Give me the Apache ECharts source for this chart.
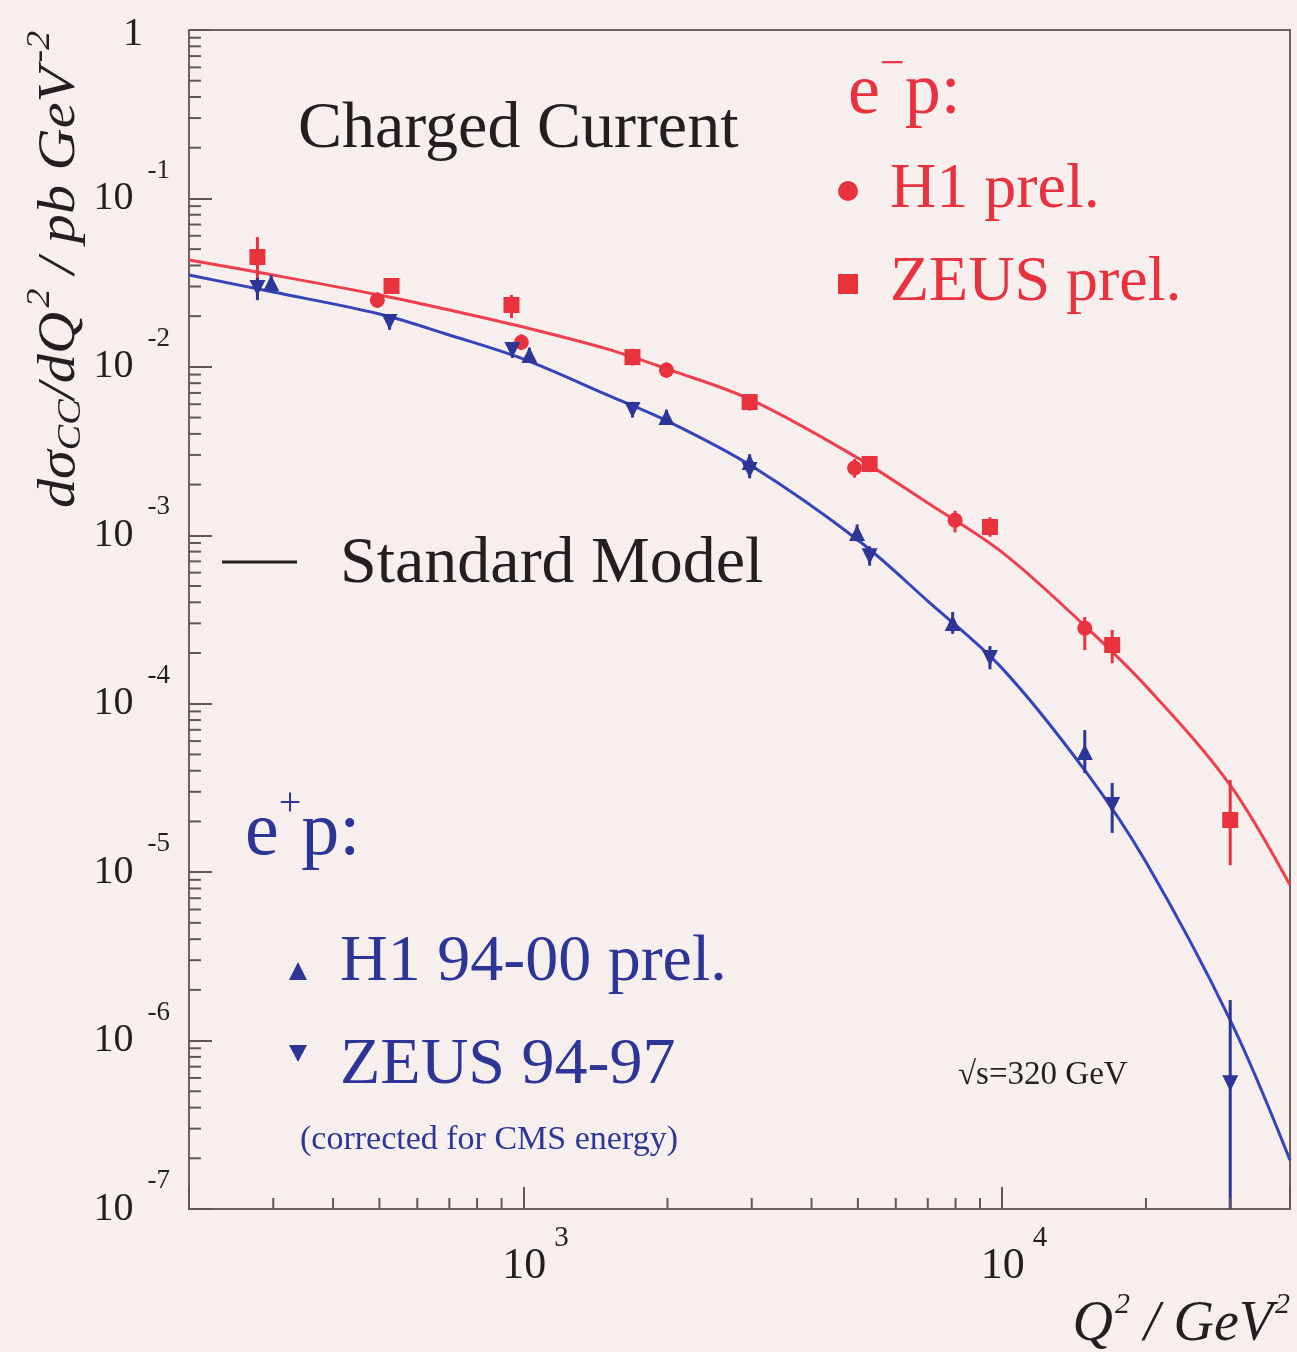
<!DOCTYPE html>
<html>
<head>
<meta charset="utf-8">
<script src="https://cdn.jsdelivr.net/npm/echarts@6/dist/echarts.min.js"></script>
<style>
  html, body { margin: 0; padding: 0; background: #f7efee; }
  #chart { width: 1297px; height: 1352px; }
</style>
</head>
<body>
<div id="chart"></div>
<script>
// ---- Standard Model predictions, dsigma_CC/dQ^2 in pb/GeV^2 ----
const smQ2 = [200, 300, 500, 700, 1000, 1500, 2000, 3000, 5000, 7000, 10000, 15000, 20000, 30000, 40000];
const smEminusP = [0.04307, 0.03509, 0.02669, 0.02175, 0.01723, 0.01275, 0.00970, 0.00635, 0.002873,
                   0.001553, 0.000795, 0.000285, 0.0001272, 0.00003285, 0.00000837];
const smEplusP = [0.03509, 0.02780, 0.02059, 0.01545, 0.01112, 0.00680, 0.004766, 0.002576, 0.000937,
                  0.0004068, 0.0001627, 0.00003925, 0.00001147, 0.000001321, 0.000000195];

// ---- e-p : H1 preliminary ----
const h1EmQ2 = [495, 990, 1990, 4920, 7980, 14900];
const h1EmXsec = [0.0249, 0.0140, 0.00957, 0.00251, 0.00123, 0.000281];
const h1EmLow = [0.0224, 0.0126, 0.0086, 0.00220, 0.00104, 0.000208];
const h1EmHigh = [0.0277, 0.0156, 0.0106, 0.00284, 0.00140, 0.000327];

// ---- e-p : ZEUS preliminary ----
const zeusEmQ2 = [278, 530, 944, 1690, 2970, 5290, 9440, 17000, 30000];
const zeusEmXsec = [0.0449, 0.0302, 0.0233, 0.01143, 0.00618, 0.00265, 0.00112, 0.000223, 0.0000204];
const zeusEmLow = [0.0306, 0.0272, 0.0195, 0.0102, 0.0055, 0.00237, 0.00098, 0.000174, 0.0000110];
const zeusEmHigh = [0.0590, 0.0335, 0.0267, 0.0128, 0.0069, 0.00296, 0.00128, 0.000274, 0.0000352];

// ---- e+p : H1 94-00 preliminary ----
const h1EpQ2 = [297, 1029, 1990, 2970, 4980, 7890, 14900];
const h1EpXsec = [0.0315, 0.01175, 0.00503, 0.00272, 0.00103, 0.000301, 0.0000516];
const h1EpLow = [0.0285, 0.0106, 0.00455, 0.00244, 0.00092, 0.000260, 0.0000387];
const h1EpHigh = [0.0350, 0.0130, 0.00556, 0.00303, 0.00116, 0.000350, 0.0000697];

// ---- e+p : ZEUS 94-97 (corrected for CMS energy) ----
const zeusEpQ2 = [278, 525, 948, 1690, 2970, 5290, 9440, 17000, 30000];
const zeusEpXsec = [0.0294, 0.01845, 0.01259, 0.00554, 0.00244, 0.000752, 0.000187, 0.0000250, 0.000000558];
const zeusEpLow = [0.0249, 0.0166, 0.0113, 0.0050, 0.00218, 0.00066, 0.000160, 0.0000171, 0.00000001];
const zeusEpHigh = [0.0337, 0.0205, 0.0140, 0.0062, 0.00273, 0.00086, 0.000220, 0.0000338, 0.00000174];

// ---- axis ranges and minor tick positions ----
const xRange = [200, 40000];
const yRange = [1e-7, 1];
const xMinorTicks = [300, 400, 500, 600, 700, 800, 900, 2000, 3000, 4000, 5000, 6000, 7000, 8000, 9000, 20000, 30000];
const yMinorTicks = [];
for (let e = -7; e < 0; e++) {
  for (let m = 2; m <= 9; m++) yMinorTicks.push(m * Math.pow(10, e));
}

const SERIF = "'Liberation Serif','Times New Roman',serif";
const RED = '#e8323e';
const RED_LINE = '#ef3e4c';
const BLUE = '#2d3596';
const BLUE_LINE = '#3444bb';
const INK = '#231f20';
const FRAME = '#6b6264';

const zip2 = (a, b) => a.map((v, i) => [v, b[i]]);
const zip3 = (a, b, c) => a.map((v, i) => [v, b[i], c[i]]);

function isDecade(v) {
  const l = Math.log10(v);
  return Math.abs(l - Math.round(l)) < 1e-6;
}

function errorBars(name, q2, lo, hi, color) {
  return {
    type: 'custom', name: name, z: 3, clip: true,
    data: zip3(q2, lo, hi),
    encode: { x: 0, y: [1, 2] },
    renderItem: function (params, api) {
      const a = api.coord([api.value(0), api.value(1)]);
      const b = api.coord([api.value(0), api.value(2)]);
      return {
        type: 'line',
        shape: { x1: a[0], y1: a[1], x2: b[0], y2: b[1] },
        style: { stroke: color, lineWidth: 3 }
      };
    }
  };
}

function markers(name, q2, xs, symbol, size, color, rotate) {
  return {
    type: 'scatter', name: name, z: 4,
    data: zip2(q2, xs),
    symbol: symbol, symbolSize: size, symbolRotate: rotate || 0,
    itemStyle: { color: color, opacity: 1 }
  };
}

function curve(name, ys, color) {
  return {
    type: 'line', name: name, z: 2,
    data: zip2(smQ2, ys),
    smooth: 0.35, showSymbol: false,
    lineStyle: { color: color, width: 3 }
  };
}

const minorTickStyle = { stroke: '#5e5658', lineWidth: 2 };

const option = {
  backgroundColor: '#f7efee',
  animation: false,
  grid: {
    left: 189, right: 7, top: 30, bottom: 143,
    show: true, borderColor: FRAME, borderWidth: 2, backgroundColor: 'transparent'
  },
  xAxis: {
    type: 'log', logBase: 10, min: xRange[0], max: xRange[1],
    axisLine: { show: true, onZero: false, lineStyle: { color: FRAME, width: 2 } },
    axisTick: { show: true, inside: true, length: 22, lineStyle: { color: '#5e5658', width: 2 } },
    splitLine: { show: false },
    axisLabel: {
      margin: 25,
      formatter: function (v) {
        if (!isDecade(v)) return '';
        const e = Math.round(Math.log10(v));
        return '{b|10}{s|' + e + '}';
      },
      rich: {
        b: { fontFamily: SERIF, fontSize: 44, color: INK, lineHeight: 44, padding: [20, 0, 0, 24] },
        s: { fontFamily: SERIF, fontSize: 29, color: INK, lineHeight: 28, padding: [0, 0, 36, 8] }
      }
    }
  },
  yAxis: {
    type: 'log', logBase: 10, min: yRange[0], max: yRange[1],
    axisLine: { show: true, onZero: false, lineStyle: { color: FRAME, width: 2 } },
    axisTick: { show: true, inside: true, length: 23, lineStyle: { color: '#5e5658', width: 2 } },
    splitLine: { show: false },
    axisLabel: {
      margin: 19,
      formatter: function (v) {
        if (!isDecade(v)) return '';
        const e = Math.round(Math.log10(v));
        if (e === 0) return '{one|1}';
        return '{b|10}{s|' + e + '}';
      },
      rich: {
        one: { fontFamily: SERIF, fontSize: 40, color: INK, lineHeight: 40, padding: [8, 27, 0, 0] },
        b: { fontFamily: SERIF, fontSize: 40, color: INK, lineHeight: 40 },
        s: { fontFamily: SERIF, fontSize: 27, color: INK, lineHeight: 27, padding: [0, 0, 56, 14] }
      }
    }
  },
  series: [
    // minor ticks along the bottom and left axes
    {
      type: 'custom', name: 'x minor ticks', z: 5, silent: true,
      data: xMinorTicks.map(v => [v, yRange[0]]),
      encode: { x: 0, y: 1 },
      renderItem: function (params, api) {
        const p = api.coord([api.value(0), api.value(1)]);
        return { type: 'line', shape: { x1: p[0], y1: p[1], x2: p[0], y2: p[1] - 11 }, style: minorTickStyle };
      }
    },
    {
      type: 'custom', name: 'y minor ticks', z: 5, silent: true,
      data: yMinorTicks.map(v => [xRange[0], v]),
      encode: { x: 0, y: 1 },
      renderItem: function (params, api) {
        const p = api.coord([api.value(0), api.value(1)]);
        return { type: 'line', shape: { x1: p[0], y1: p[1], x2: p[0] + 12, y2: p[1] }, style: minorTickStyle };
      }
    },
    curve('SM e-p', smEminusP, RED_LINE),
    curve('SM e+p', smEplusP, BLUE_LINE),
    errorBars('H1 e-p err', h1EmQ2, h1EmLow, h1EmHigh, RED),
    errorBars('ZEUS e-p err', zeusEmQ2, zeusEmLow, zeusEmHigh, RED),
    errorBars('H1 e+p err', h1EpQ2, h1EpLow, h1EpHigh, BLUE),
    errorBars('ZEUS e+p err', zeusEpQ2, zeusEpLow, zeusEpHigh, BLUE),
    markers('H1 prel.', h1EmQ2, h1EmXsec, 'circle', 15, RED),
    markers('ZEUS prel.', zeusEmQ2, zeusEmXsec, 'rect', 16, RED),
    markers('H1 94-00 prel.', h1EpQ2, h1EpXsec, 'triangle', 16, BLUE),
    markers('ZEUS 94-97', zeusEpQ2, zeusEpXsec, 'triangle', 16, BLUE, 180)
  ],
  graphic: [
    // y-axis title, reading bottom to top
    {
      type: 'text', x: 60, y: 508, rotation: Math.PI / 2, scaleX: 1.12,
      style: {
        text: '{i|dσ}{sub|CC}{i|/dQ}{sup|2}{i| / pb GeV}{sup|-2}',
        textAlign: 'left', textVerticalAlign: 'middle',
        rich: {
          i: { fontFamily: SERIF, fontStyle: 'italic', fontSize: 52, fill: INK, lineHeight: 52 },
          sub: { fontFamily: SERIF, fontStyle: 'italic', fontSize: 34, fill: INK, lineHeight: 34, padding: [22, 0, 0, 0] },
          sup: { fontFamily: SERIF, fontStyle: 'italic', fontSize: 34, fill: INK, lineHeight: 34, padding: [0, 0, 40, 4] }
        }
      }
    },
    // x-axis title
    {
      type: 'text', x: 1290, y: 1325,
      style: {
        text: '{i|Q}{sup|2}{i| / GeV}{sup|2}',
        textAlign: 'right', textVerticalAlign: 'middle',
        rich: {
          i: { fontFamily: SERIF, fontStyle: 'italic', fontSize: 56, fill: INK, lineHeight: 56 },
          sup: { fontFamily: SERIF, fontStyle: 'italic', fontSize: 30, fill: INK, lineHeight: 30, padding: [0, 0, 40, 2] }
        }
      }
    },
    {
      type: 'text', x: 298, y: 130,
      style: { text: 'Charged Current', font: '66px ' + SERIF, fill: INK, textAlign: 'left', textVerticalAlign: 'middle' }
    },
    {
      type: 'line', shape: { x1: 222, y1: 562, x2: 297, y2: 562 },
      style: { stroke: INK, lineWidth: 3 }
    },
    {
      type: 'text', x: 340, y: 565,
      style: { text: 'Standard Model', font: '66px ' + SERIF, fill: INK, textAlign: 'left', textVerticalAlign: 'middle' }
    },
    // e-p legend
    {
      type: 'text', x: 848, y: 94,
      style: {
        text: '{b|e}{s|−}{b|p:}',
        textAlign: 'left', textVerticalAlign: 'middle',
        rich: {
          b: { fontFamily: SERIF, fontSize: 72, fill: RED, lineHeight: 72 },
          s: { fontFamily: SERIF, fontSize: 44, fill: RED, lineHeight: 44, padding: [0, 0, 58, 0] }
        }
      }
    },
    { type: 'circle', shape: { cx: 848, cy: 191, r: 10 }, style: { fill: RED } },
    {
      type: 'text', x: 890, y: 190,
      style: { text: 'H1 prel.', font: '64px ' + SERIF, fill: RED, textAlign: 'left', textVerticalAlign: 'middle' }
    },
    { type: 'rect', shape: { x: 838, y: 274, width: 20, height: 20 }, style: { fill: RED } },
    {
      type: 'text', x: 890, y: 283,
      style: { text: 'ZEUS prel.', font: '64px ' + SERIF, fill: RED, textAlign: 'left', textVerticalAlign: 'middle' }
    },
    // e+p legend
    {
      type: 'text', x: 245, y: 834,
      style: {
        text: '{b|e}{s|+}{b|p:}',
        textAlign: 'left', textVerticalAlign: 'middle',
        rich: {
          b: { fontFamily: SERIF, fontSize: 76, fill: BLUE, lineHeight: 76 },
          s: { fontFamily: SERIF, fontSize: 40, fill: BLUE, lineHeight: 40, padding: [0, 0, 60, 0] }
        }
      }
    },
    { type: 'polygon', shape: { points: [[298, 962], [307, 980], [289, 980]] }, style: { fill: BLUE } },
    {
      type: 'text', x: 340, y: 963,
      style: { text: 'H1 94-00 prel.', font: '66px ' + SERIF, fill: BLUE, textAlign: 'left', textVerticalAlign: 'middle' }
    },
    { type: 'polygon', shape: { points: [[289, 1045], [307, 1045], [298, 1062]] }, style: { fill: BLUE } },
    {
      type: 'text', x: 340, y: 1066,
      style: { text: 'ZEUS 94-97', font: '66px ' + SERIF, fill: BLUE, textAlign: 'left', textVerticalAlign: 'middle' }
    },
    {
      type: 'text', x: 300, y: 1140,
      style: { text: '(corrected for CMS energy)', font: '34px ' + SERIF, fill: BLUE, textAlign: 'left', textVerticalAlign: 'middle' }
    },
    {
      type: 'text', x: 958, y: 1075,
      style: { text: '√s=320 GeV', font: '33px ' + SERIF, fill: INK, textAlign: 'left', textVerticalAlign: 'middle' }
    }
  ]
};

const chart = echarts.init(document.getElementById('chart'), null, { renderer: 'canvas' });
chart.setOption(option);
</script>
</body>
</html>
